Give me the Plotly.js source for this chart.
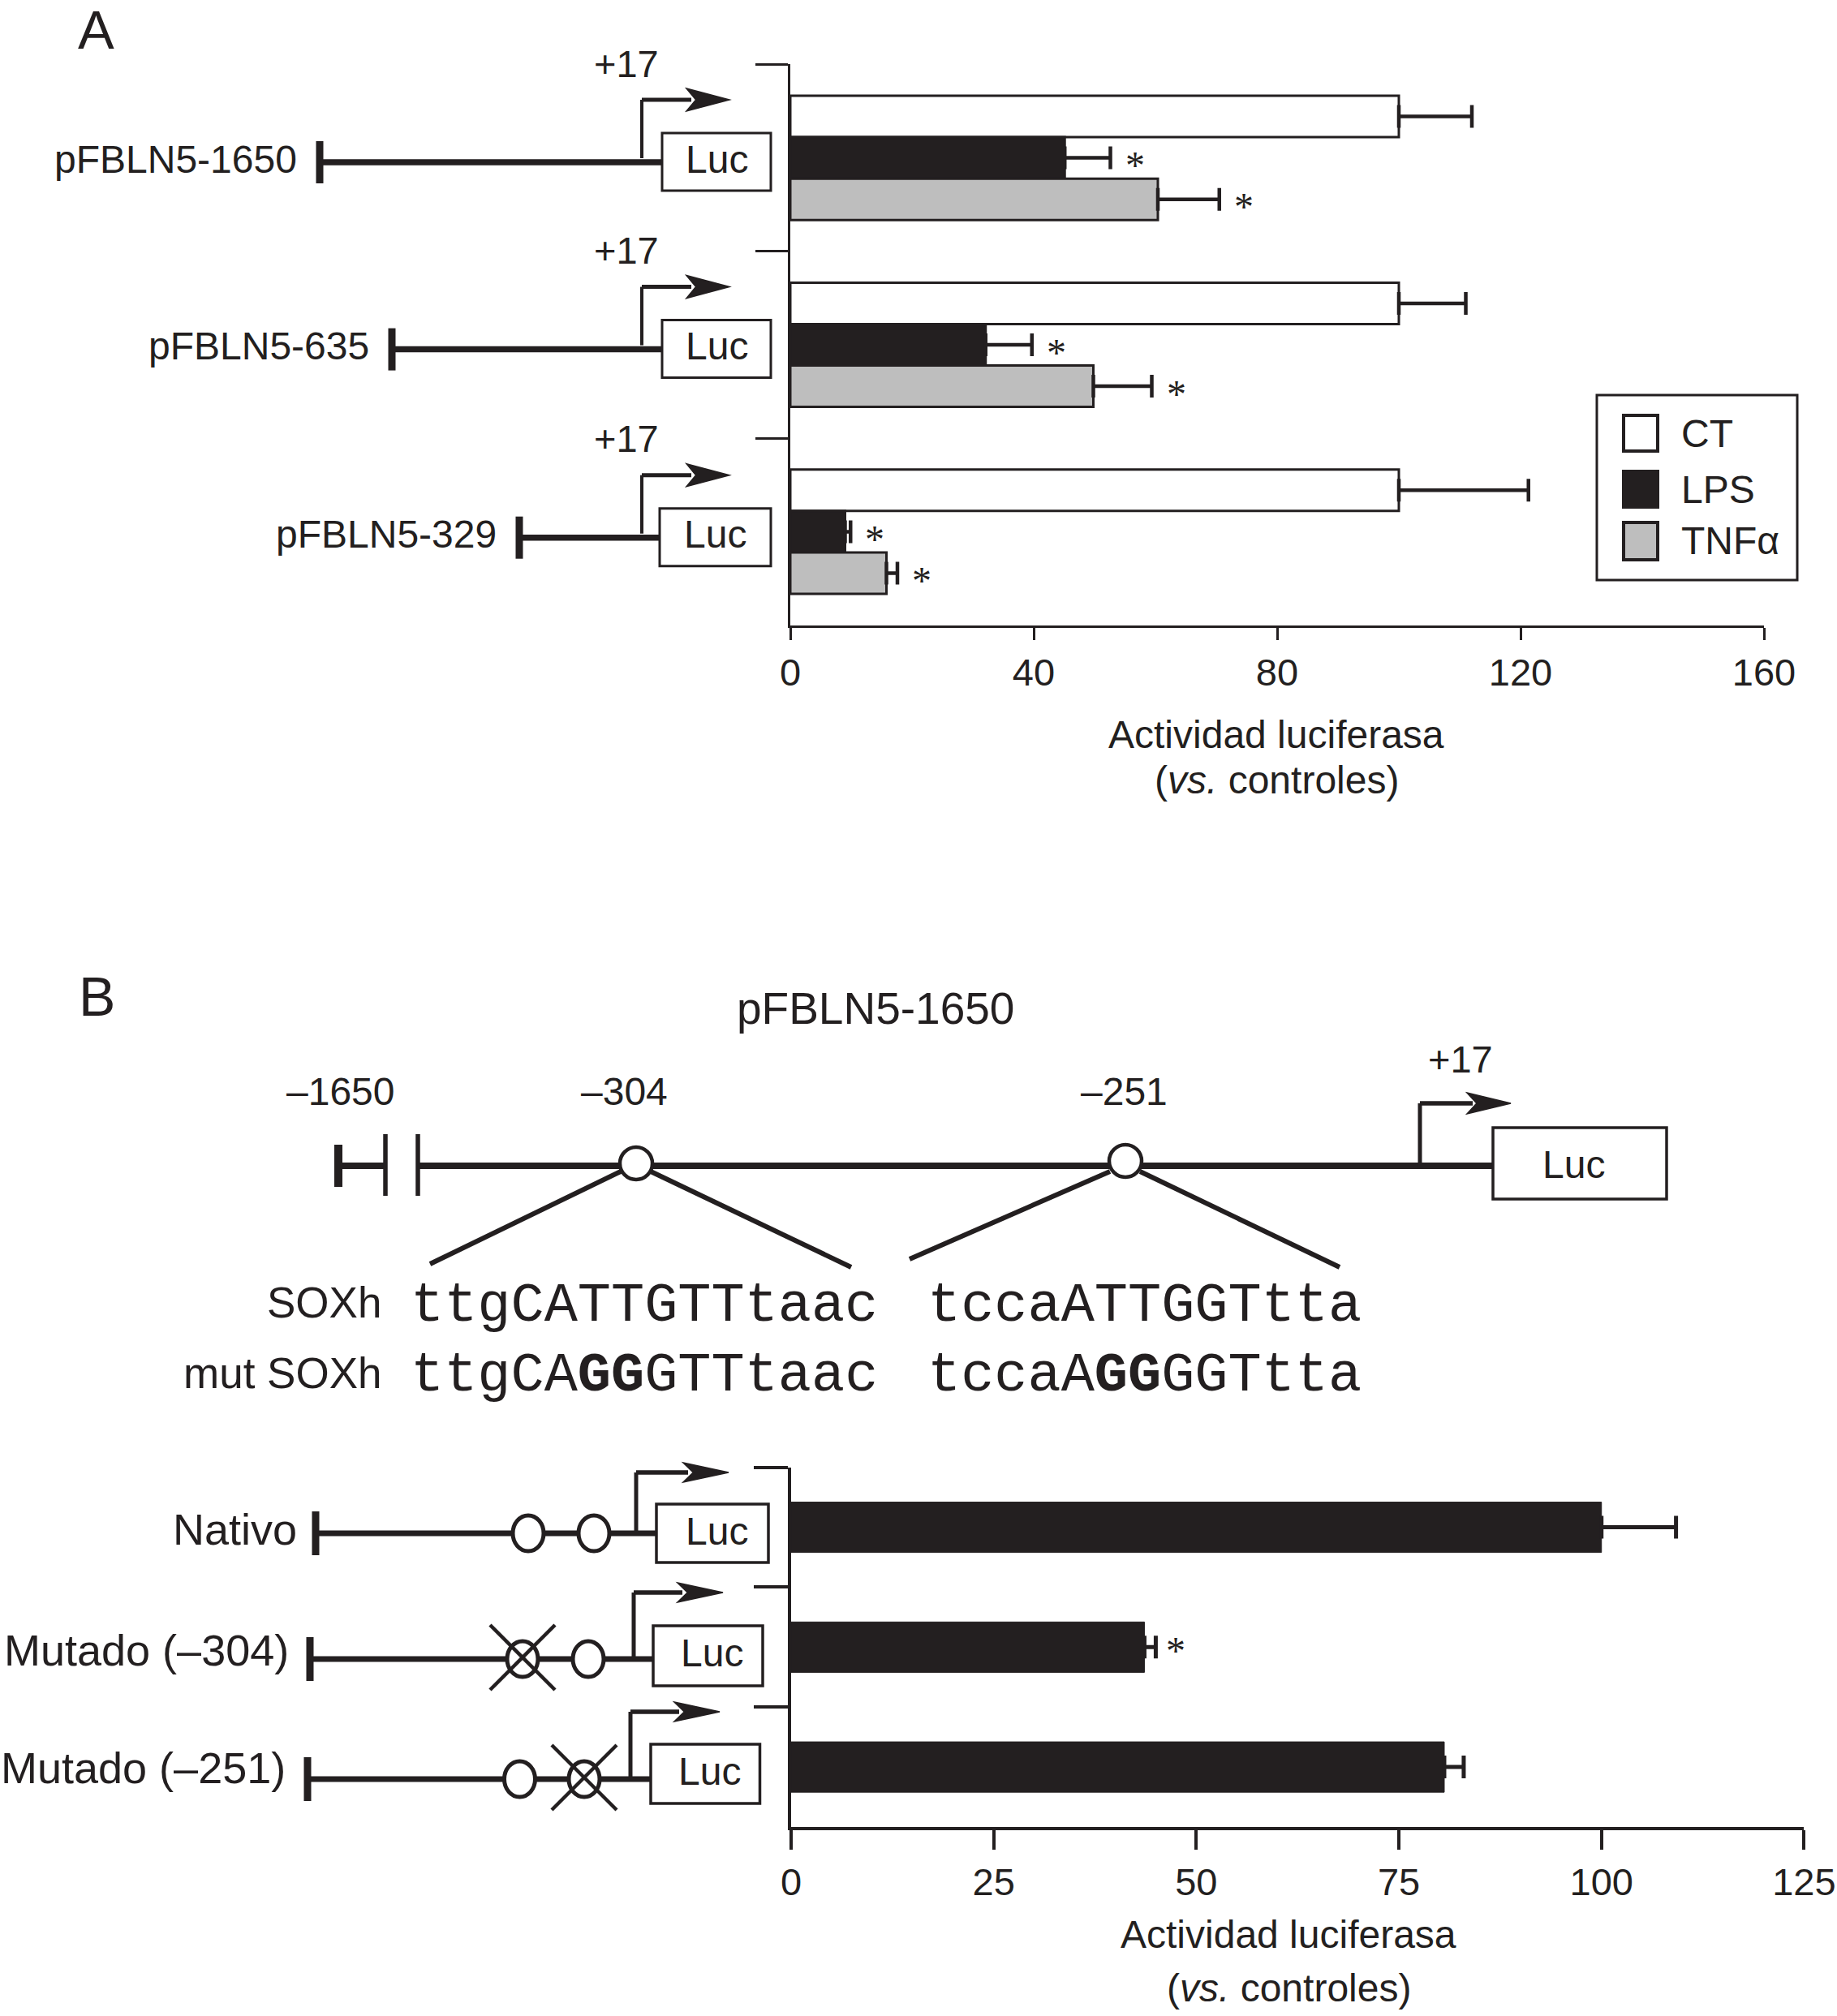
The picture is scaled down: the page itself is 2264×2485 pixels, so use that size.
<!DOCTYPE html>
<html><head><meta charset="utf-8">
<script src="https://cdn.plot.ly/plotly-3.0.1.min.js"></script>
<style>html,body{margin:0;padding:0;background:#fff}#chart{width:2264px;height:2485px}</style>
</head><body><div id="chart"></div>
<script>
// ---------------- data ----------------
const constructsA = ['pFBLN5-1650', 'pFBLN5-635', 'pFBLN5-329'];
const seriesA = ['CT', 'LPS', 'TNFα'];
const ctValues = [100, 100, 100];
const ctErrors = [12, 11, 21.3];
const lpsValues = [45.1, 32.1, 9.0];
const lpsErrors = [7.5, 7.6, 0.9];
const tnfValues = [60.4, 49.8, 15.8];
const tnfErrors = [10.1, 9.6, 1.8];
const lpsSignificant = [true, true, true];
const tnfSignificant = [true, true, true];
const ticksA = [0, 40, 80, 120, 160];

const constructsB = ['Nativo', 'Mutado (–304)', 'Mutado (–251)'];
const activityB = [100, 43.6, 80.6];
const errorsB = [9.2, 1.4, 2.4];
const significantB = [false, true, false];
const ticksB = [0, 25, 50, 75, 100, 125];

const siteLabels = ['–1650', '–304', '–251'];
const seqLabels = ['SOXh', 'mut SOXh'];
const seqWild = ['ttgCATTGTTtaac', 'tccaATTGGTtta'];
const seqMut = ['ttgCA<b>GG</b>GTTtaac', 'tccaA<b>GG</b>GGTtta'];
const axisTitle = ['Actividad luciferasa', '(<i>vs.</i> controles)'];

// ---------------- styling helpers ----------------
const W = 2264, H = 2485;
const INK = '#231f20', GREY = '#bebebe';
const SANS = 'Liberation Sans, Arial, Helvetica, sans-serif';
const MONO = 'Liberation Mono, Courier New, monospace';
const SERIF = 'Liberation Serif, Times New Roman, serif';
const X = p => p / W, Y = p => 1 - p / H;
const shapes = [], ann = [];
function seg(x0, y0, x1, y1, w) {
  shapes.push({type: 'line', xref: 'paper', yref: 'paper', x0: X(x0), y0: Y(y0), x1: X(x1), y1: Y(y1), line: {color: INK, width: w}});
}
function box(x0, y0, x1, y1, w, fill) {
  shapes.push({type: 'rect', xref: 'paper', yref: 'paper', x0: X(x0), y0: Y(y1), x1: X(x1), y1: Y(y0), line: {color: INK, width: w}, fillcolor: fill || 'rgba(0,0,0,0)'});
}
function ell(cx, cy, rx, ry, w) {
  shapes.push({type: 'circle', xref: 'paper', yref: 'paper', x0: X(cx - rx), x1: X(cx + rx), y0: Y(cy + ry), y1: Y(cy - ry), line: {color: INK, width: w}, fillcolor: '#ffffff'});
}
function head(x0, x1, y, h) {
  const d = `M${X(x0)},${Y(y - h)} L${X(x1)},${Y(y)} L${X(x0)},${Y(y + h)} L${X(x0 + (x1 - x0) * 0.22)},${Y(y)} Z`;
  shapes.push({type: 'path', xref: 'paper', yref: 'paper', path: d, line: {color: INK, width: 1.5}, fillcolor: INK});
}
function txt(x, y, t, size, xa, fam) {
  ann.push({xref: 'paper', yref: 'paper', x: X(x), y: Y(y), text: t, showarrow: false, xanchor: xa || 'center', yanchor: 'middle', font: {family: fam || SANS, size: size, color: INK}});
}

// ---------------- panel letters ----------------
txt(118, 36, 'A', 67);
txt(119, 1228, 'B', 68);

// ---------------- panel A construct diagrams ----------------
const diagA = {cy: [200, 430.6, 662.7], tickX: [394, 483, 640], boxX0: [816, 816, 813]};
constructsA.forEach((name, i) => {
  const cy = diagA.cy[i], tx = diagA.tickX[i], bx = diagA.boxX0[i];
  txt(tx - 26, cy - 4, name, 48, 'right');
  seg(tx, cy - 26, tx, cy + 26, 9);
  seg(tx, cy, bx, cy, 7.5);
  box(bx, cy - 36, 950, cy + 35, 3);
  txt((bx + 950) / 2, cy - 4, 'Luc', 48);
  seg(791, cy - 5, 791, cy - 77, 4);
  seg(791, cy - 77, 852, cy - 77, 5);
  head(846, 899, cy - 77, 14);
  txt(772, cy - 122, '+17', 47);
});

// ---------------- panel A legend (drawn) ----------------
box(1968, 487, 2215, 715, 3);
const legRows = [[512, 556], [581, 625], [644, 690]];
const legFill = ['#ffffff', INK, GREY];
seriesA.forEach((s, i) => {
  box(2001, legRows[i][0], 2043, legRows[i][1], 4, legFill[i]);
  txt(2070, (legRows[i][0] + legRows[i][1]) / 2, s, 48, 'left');
});

// ---------------- axis titles ----------------
txt(1573, 905, axisTitle[0], 48); txt(1573, 962, axisTitle[1], 48);
txt(1588, 2384, axisTitle[0], 48); txt(1588, 2450, axisTitle[1], 48);

// ---------------- panel B promoter map ----------------
txt(1079, 1243, 'pFBLN5-1650', 55);
seg(417, 1411, 417, 1463, 10);
seg(417, 1437, 475, 1437, 8);
seg(475, 1398, 475, 1474, 5.5);
seg(515, 1398, 515, 1474, 5.5);
seg(515, 1437, 1840, 1437, 8);
seg(765, 1444, 530, 1558, 6); seg(802, 1444, 1049, 1562, 6);
seg(1368, 1444, 1121, 1552, 6); seg(1405, 1444, 1651, 1562, 6);
ell(784, 1434, 20, 20, 4.5); ell(1387, 1431, 20, 20, 4.5);
txt(419, 1345, siteLabels[0], 48); txt(769, 1345, siteLabels[1], 48); txt(1385, 1345, siteLabels[2], 48);
seg(1750, 1437, 1750, 1360, 5); seg(1750, 1360, 1815, 1360, 5.5); head(1808, 1862, 1360, 13);
txt(1800, 1305, '+17', 47);
box(1840, 1390, 2054, 1478, 3.5);
txt(1939, 1435, 'Luc', 48);

txt(472, 1606, seqLabels[0], 53, 'right'); txt(472, 1692, seqLabels[1], 53, 'right');
txt(504, 1610, seqWild[0], 68.6, 'left', MONO); txt(1141, 1610, seqWild[1], 68.6, 'left', MONO);
txt(504, 1696, seqMut[0], 68.6, 'left', MONO); txt(1141, 1696, seqMut[1], 68.6, 'left', MONO);

// ---------------- panel B construct diagrams ----------------
const diagB = [
  {cy: 1890, ly: 1885, lx: 368, tx: 389, c: [651, 732], mut: -1, bx: [809, 947], by: [1854, 1926], ax: 784, ay: 1815, ah: 898},
  {cy: 2045, ly: 2034, lx: 358, tx: 382, c: [644, 725], mut: 0, bx: [805, 940], by: [2004, 2078], ax: 781, ay: 1963, ah: 891},
  {cy: 2193, ly: 2179, lx: 354, tx: 379, c: [640.5, 720], mut: 1, bx: [802, 936.5], by: [2150, 2223], ax: 777, ay: 2110, ah: 887}
];
constructsB.forEach((name, i) => {
  const d = diagB[i];
  txt(d.lx, d.ly, name, 54, 'right');
  seg(d.tx, d.cy - 27, d.tx, d.cy + 27, 9);
  seg(d.tx, d.cy, d.bx[0], d.cy, 7);
  d.c.forEach((cx, k) => {
    ell(cx, d.cy, 19, 22, 5);
    if (k === d.mut) {
      seg(cx - 40, d.cy - 42, cx + 40, d.cy + 38, 4.5);
      seg(cx + 40, d.cy - 42, cx - 40, d.cy + 38, 4.5);
    }
  });
  box(d.bx[0], d.by[0], d.bx[1], d.by[1], 3.5);
  txt((d.bx[0] + d.bx[1]) / 2 + 5, (d.by[0] + d.by[1]) / 2 - 3, 'Luc', 48);
  seg(d.ax, d.cy - 3, d.ax, d.ay, 5);
  seg(d.ax, d.ay, d.ah - 50, d.ay, 5.5);
  head(d.ah - 56, d.ah, d.ay, 12);
});

// ---------------- bars ----------------
const bw = 0.2217;
function barTrace(name, vals, errs, fill, offset) {
  return {type: 'bar', orientation: 'h', name: name, y: constructsA, x: vals, width: bw, offset: offset,
    xaxis: 'x', yaxis: 'y', marker: {color: fill, line: {color: INK, width: 3}},
    error_x: {type: 'data', symmetric: false, array: errs, arrayminus: errs.map(() => 0), color: INK, thickness: 4.5, width: 14},
    hoverinfo: 'x'};
}
const traces = [
  barTrace(seriesA[0], ctValues, ctErrors, '#ffffff', -1.5 * bw),
  barTrace(seriesA[1], lpsValues, lpsErrors, INK, -0.5 * bw),
  barTrace(seriesA[2], tnfValues, tnfErrors, GREY, 0.5 * bw),
  {type: 'bar', orientation: 'h', name: 'pFBLN5-1650', y: constructsB, x: activityB, width: 0.42, offset: -0.21,
    xaxis: 'x2', yaxis: 'y2', marker: {color: INK, line: {color: INK, width: 1}},
    error_x: {type: 'data', symmetric: false, array: errorsB, arrayminus: errorsB.map(() => 0), color: INK, thickness: 5, width: 14},
    hoverinfo: 'x'}
];

// significance asterisks
function star(xref, yref, xv, yv, xs) {
  ann.push({xref: xref, yref: yref, x: xv, y: yv, xshift: xs, yshift: -9, text: '*', showarrow: false,
    xanchor: 'center', yanchor: 'middle', font: {family: SERIF, size: 48, color: INK}});
}
constructsA.forEach((c, i) => {
  if (lpsSignificant[i]) star('x', 'y', lpsValues[i] + lpsErrors[i], i, 30);
  if (tnfSignificant[i]) star('x', 'y', tnfValues[i] + tnfErrors[i], i + bw, 30);
});
constructsB.forEach((c, i) => {
  if (significantB[i]) star('x2', 'y2', activityB[i] + errorsB[i], i - 0.03, 25);
});

const xCommon = {ticks: 'outside', tickcolor: INK, showline: true, linecolor: INK, showgrid: false, zeroline: false,
  tickfont: {family: SANS, size: 47, color: INK}, ticklabelstandoff: 0, fixedrange: true};
const yCommon = {type: 'category', categoryorder: 'array', range: [2.5, -0.5], tickson: 'boundaries', ticks: 'outside',
  tickcolor: INK, showline: true, linecolor: INK, showticklabels: false, showgrid: false, zeroline: false, fixedrange: true};

const layout = {
  width: W, height: H, margin: {l: 0, r: 0, t: 0, b: 0, pad: 0},
  paper_bgcolor: '#ffffff', plot_bgcolor: '#ffffff', showlegend: false, barmode: 'overlay',
  font: {family: SANS, color: INK},
  xaxis: Object.assign({}, xCommon, {domain: [974 / W, 2174 / W], range: [0, 160], tickvals: ticksA, ticklen: 15, tickwidth: 3, linewidth: 3, anchor: 'y'}),
  yaxis: Object.assign({}, yCommon, {domain: [1 - 770.6 / H, 1 - 79.4 / H], categoryarray: constructsA, ticklen: 40, tickwidth: 3, linewidth: 3, anchor: 'x'}),
  xaxis2: Object.assign({}, xCommon, {domain: [975 / W, 2223.4 / W], range: [0, 125], tickvals: ticksB, ticklen: 24, tickwidth: 4, linewidth: 4, anchor: 'y2'}),
  yaxis2: Object.assign({}, yCommon, {domain: [1 - 2252 / H, 1 - 1808.7 / H], categoryarray: constructsB, ticklen: 42, tickwidth: 4, linewidth: 4, anchor: 'x2'}),
  shapes: shapes, annotations: ann
};
Plotly.newPlot('chart', traces, layout, {displayModeBar: false, responsive: false});
</script></body></html>
